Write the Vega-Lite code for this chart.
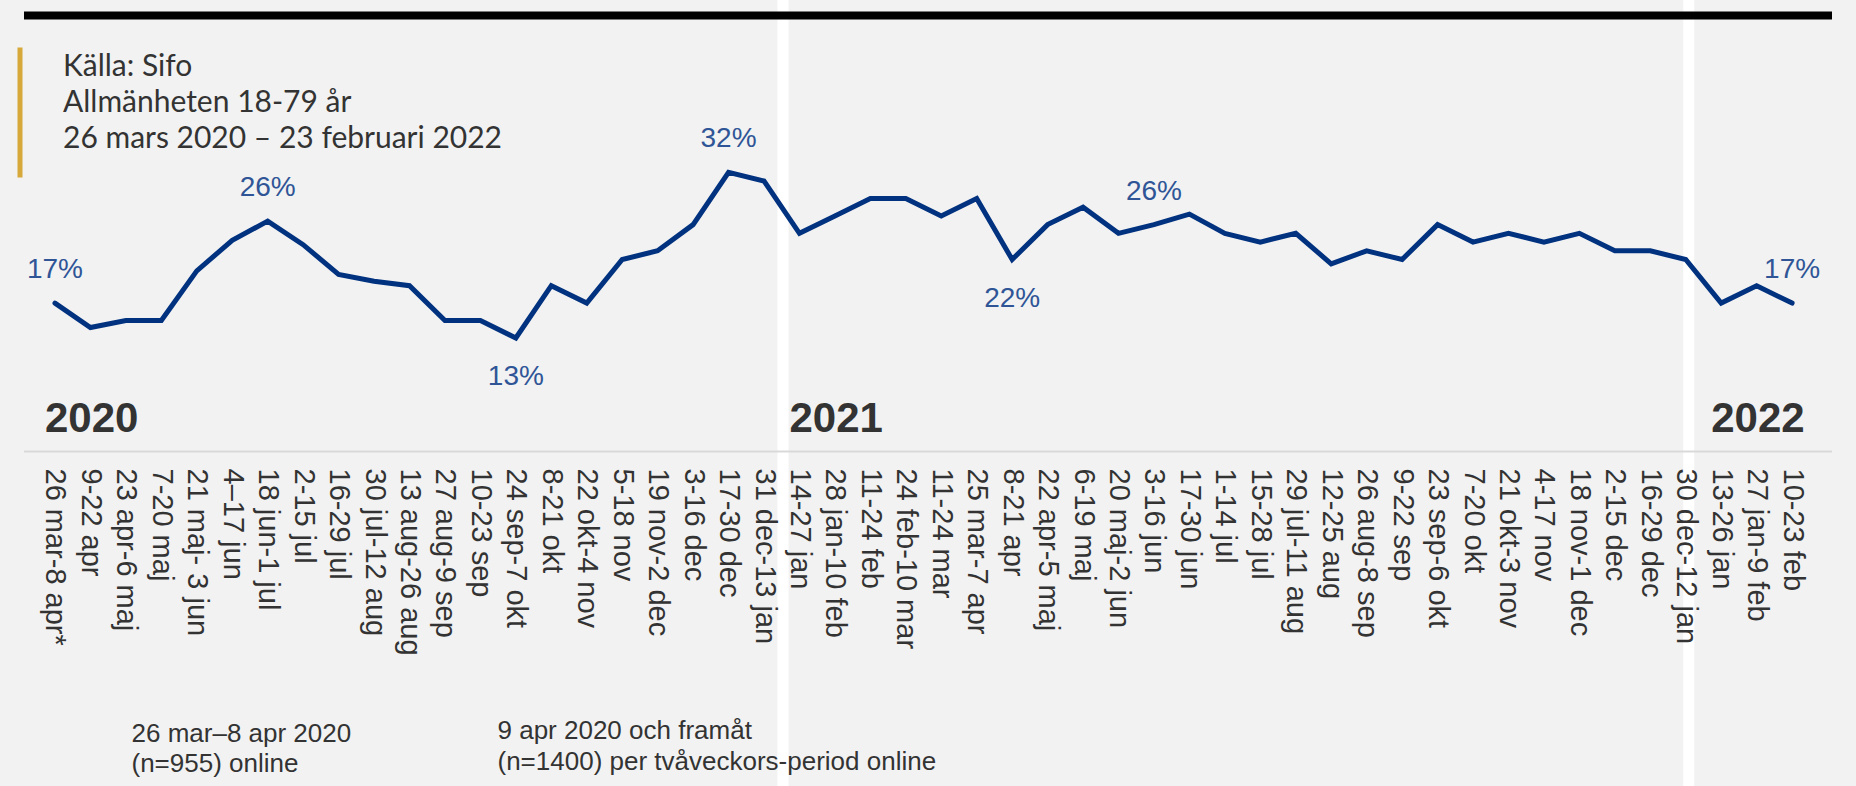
{
  "$schema": "https://vega.github.io/schema/vega-lite/v6.json",
  "width": 1827,
  "height": 786,
  "autosize": {"type": "none"},
  "padding": {"left": 14, "top": 0, "right": 15, "bottom": 0},
  "background": "#f2f2f2",
  "config": {"view": {"stroke": null}},
  "datasets": {
    "survey": [
      {"period": "26 mar-8 apr*", "share": 0.17, "callout": "end"},
      {"period": "9-22 apr", "share": 0.142},
      {"period": "23 apr-6 maj", "share": 0.15},
      {"period": "7-20 maj", "share": 0.15},
      {"period": "21 maj- 3 jun", "share": 0.207},
      {"period": "4–17 jun", "share": 0.242},
      {"period": "18 jun-1 jul", "share": 0.264, "callout": "high"},
      {"period": "2-15 jul", "share": 0.237},
      {"period": "16-29 jul", "share": 0.203},
      {"period": "30 jul-12 aug", "share": 0.195},
      {"period": "13 aug-26 aug", "share": 0.19},
      {"period": "27 aug-9 sep", "share": 0.15},
      {"period": "10-23 sep", "share": 0.15},
      {"period": "24 sep-7 okt", "share": 0.13, "callout": "low"},
      {"period": "8-21 okt", "share": 0.19},
      {"period": "22 okt-4 nov", "share": 0.17},
      {"period": "5-18 nov", "share": 0.22},
      {"period": "19 nov-2 dec", "share": 0.23},
      {"period": "3-16 dec", "share": 0.26},
      {"period": "17-30 dec", "share": 0.32, "callout": "high"},
      {"period": "31 dec-13 jan", "share": 0.31},
      {"period": "14-27 jan", "share": 0.25},
      {"period": "28 jan-10 feb", "share": 0.27},
      {"period": "11-24 feb", "share": 0.29},
      {"period": "24 feb-10 mar", "share": 0.29},
      {"period": "11-24 mar", "share": 0.27},
      {"period": "25 mar-7 apr", "share": 0.29},
      {"period": "8-21 apr", "share": 0.22, "callout": "low"},
      {"period": "22 apr-5 maj", "share": 0.26},
      {"period": "6-19 maj", "share": 0.28},
      {"period": "20 maj-2 jun", "share": 0.25},
      {"period": "3-16 jun", "share": 0.26, "callout": "high"},
      {"period": "17-30 jun", "share": 0.272},
      {"period": "1-14 jul", "share": 0.25},
      {"period": "15-28 jul", "share": 0.24},
      {"period": "29 jul-11 aug", "share": 0.25},
      {"period": "12-25 aug", "share": 0.215},
      {"period": "26 aug-8 sep", "share": 0.23},
      {"period": "9-22 sep", "share": 0.22},
      {"period": "23 sep-6 okt", "share": 0.26},
      {"period": "7-20 okt", "share": 0.24},
      {"period": "21 okt-3 nov", "share": 0.25},
      {"period": "4-17 nov", "share": 0.24},
      {"period": "18 nov-1 dec", "share": 0.25},
      {"period": "2-15 dec", "share": 0.23},
      {"period": "16-29 dec", "share": 0.23},
      {"period": "30 dec-12 jan", "share": 0.22},
      {"period": "13-26 jan", "share": 0.17},
      {"period": "27 jan-9 feb", "share": 0.19},
      {"period": "10-23 feb", "share": 0.17, "callout": "end"}
    ],
    "years": [
      {"year": "2020", "period": "26 mar-8 apr*"},
      {"year": "2021", "period": "14-27 jan"},
      {"year": "2022", "period": "13-26 jan"}
    ],
    "source": [
      {"line": 1, "period": "26 mar-8 apr*", "text": "Källa: Sifo"},
      {"line": 2, "period": "26 mar-8 apr*", "text": "Allmänheten 18-79 år"},
      {"line": 3, "period": "26 mar-8 apr*", "text": "26 mars 2020 – 23 februari 2022"}
    ]
  },
  "resolve": {
    "scale": {"y": "independent"},
    "axis": {"x": "independent", "y": "independent"}
  },
  "layer": [
    {
      "data": {"name": "survey"},
      "encoding": {
        "x": {
          "field": "period",
          "type": "nominal",
          "sort": null,
          "scale": {"type": "point", "range": [9.5, 1817.5], "padding": 1, "align": 0.444, "round": false},
          "axis": {
            "orient": "bottom",
            "offset": -335,
            "zindex": 1,
            "grid": false,
            "ticks": false,
            "tickSize": 0,
            "domainColor": "#d9d9d9",
            "domainWidth": 2,
            "labelAngle": 90,
            "labelFont": "Liberation Sans",
            "labelFontSize": 29,
            "labelColor": "#333333",
            "labelPadding": 17,
            "labelOverlap": false,
            "labelBound": false,
            "labelFlush": false,
            "labelLimit": 400,
            "title": ["26 mar–8 apr 2020", "(n=955) online"],
            "titleX": 117,
            "titleY": 290,
            "titleAlign": "left",
            "titleBaseline": "alphabetic",
            "titleFont": "Liberation Sans",
            "titleFontSize": 26,
            "titleFontWeight": "normal",
            "titleColor": "#333333",
            "titleLineHeight": 30
          }
        }
      },
      "layer": [
        {
          "mark": {"type": "rule", "color": "#ffffff", "strokeWidth": 11, "xOffset": 19},
          "encoding": {
            "strokeOpacity": {"condition": {"test": "datum.period === '31 dec-13 jan'", "value": 1}, "value": 0}
          }
        },
        {
          "mark": {"type": "rule", "color": "#ffffff", "strokeWidth": 11, "xOffset": 3},
          "encoding": {
            "strokeOpacity": {"condition": {"test": "datum.period === '30 dec-12 jan'", "value": 1}, "value": 0}
          }
        },
        {
          "mark": {"type": "line", "color": "#00327f", "strokeWidth": 5, "strokeCap": "round", "strokeJoin": "miter"},
          "encoding": {
            "y": {
              "field": "share",
              "type": "quantitative",
              "scale": {"domain": [0.13, 0.32], "range": [338, 172.3], "zero": false, "nice": false},
              "axis": null
            }
          }
        },
        {
          "transform": [{"filter": "datum.callout === 'high' || datum.callout === 'end'"}],
          "mark": {"type": "text", "font": "Liberation Sans", "fontSize": 28, "color": "#2f5597", "align": "center", "baseline": "alphabetic", "dy": -25},
          "encoding": {
            "y": {"field": "share", "type": "quantitative", "axis": null},
            "text": {"field": "share", "type": "quantitative", "format": ".0%"}
          }
        },
        {
          "transform": [{"filter": "datum.callout === 'low'"}],
          "mark": {"type": "text", "font": "Liberation Sans", "fontSize": 28, "color": "#2f5597", "align": "center", "baseline": "alphabetic", "dy": 47},
          "encoding": {
            "y": {"field": "share", "type": "quantitative", "axis": null},
            "text": {"field": "share", "type": "quantitative", "format": ".0%"}
          }
        }
      ]
    },
    {
      "data": {"name": "years"},
      "mark": {"type": "text", "font": "Liberation Sans", "fontSize": 42, "fontWeight": "bold", "color": "#333333", "align": "left", "baseline": "alphabetic", "dx": -10},
      "encoding": {
        "x": {
          "field": "period",
          "type": "nominal",
          "sort": null,
          "axis": {
            "orient": "top",
            "offset": -15,
            "zindex": 1,
            "domain": true,
            "domainColor": "#000000",
            "domainWidth": 8,
            "labels": false,
            "ticks": false,
            "grid": false,
            "title": null
          }
        },
        "y": {
          "field": "year",
          "type": "nominal",
          "scale": {"type": "point", "range": [432, 432]},
          "axis": {
            "orient": "right",
            "zindex": 1,
            "domain": false,
            "ticks": false,
            "labels": false,
            "grid": false,
            "title": ["9 apr 2020 och framåt", "(n=1400) per tvåveckors-period online"],
            "titleAngle": 0,
            "titleX": -1344,
            "titleY": 738,
            "titleAlign": "left",
            "titleBaseline": "alphabetic",
            "titleFont": "Liberation Sans",
            "titleFontSize": 26,
            "titleFontWeight": "normal",
            "titleColor": "#333333",
            "titleLineHeight": 31
          }
        },
        "text": {"field": "year"}
      }
    },
    {
      "data": {"name": "source"},
      "mark": {"type": "text", "font": "Lato", "fontSize": 30, "color": "#333333", "align": "left", "baseline": "alphabetic", "dx": 8},
      "encoding": {
        "x": {"field": "period", "type": "nominal", "sort": null, "axis": null},
        "y": {
          "field": "line",
          "type": "ordinal",
          "scale": {"type": "point", "range": [47, 177], "padding": 0.8},
          "axis": {
            "orient": "left",
            "offset": -5.5,
            "domain": true,
            "domainColor": "#d6a93a",
            "domainWidth": 5,
            "labels": false,
            "ticks": false,
            "grid": false,
            "title": null
          }
        },
        "text": {"field": "text"}
      }
    }
  ]
}
